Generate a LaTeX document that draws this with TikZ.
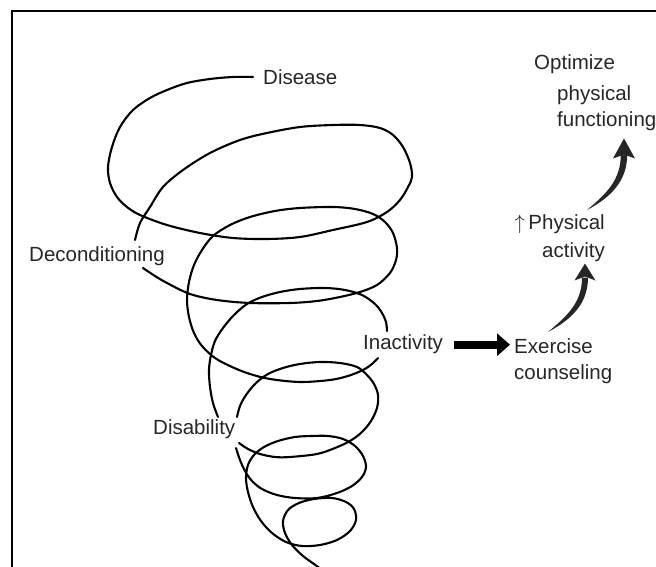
\documentclass[tikz,border=0pt]{standalone}
\usepackage{fontspec}
\setmainfont{Liberation Sans}
\usetikzlibrary{arrows.meta}

\begin{document}
\begin{tikzpicture}[
  x=1pt, y=1pt,
  lbl/.style={inner sep=2pt, text=black!85, font=\fontsize{20.5}{26}\selectfont},
  coil/.style={line width=2.1pt, line join=round, line cap=round},
  blockarr/.style={line width=8pt, -{Triangle[length=13pt,width=22pt]}},
  taper/.style={fill=black!85},
]
  \useasboundingbox (0,0) rectangle (656,567);
  % frame, open to the right and below
  \draw[line width=2.4pt] (12,0) -- (12,556) -- (656,556);

  % labels
  \node[lbl, anchor=base west] (disease) at (261,482) {Disease};
  \node[lbl, anchor=base west] (decond) at (27,305) {Deconditioning};
  \node[lbl, anchor=base west] (disab) at (151,132) {Disability};
  \node[lbl, anchor=base west] (inact) at (361,217) {Inactivity};
  \node[lbl, align=left, anchor=north west] (exer) at (512,231) {Exercise\\counseling};
  \node[lbl, align=right, anchor=north east] (phys) at (607,355) {$\uparrow$\,Physical\\[2pt]activity};
  \node[lbl, align=left, anchor=north west] (opt) at (532,515)
    {Optimize\\[5pt]\hspace*{23pt}physical\\\hspace*{23pt}functioning};

  % the spiral, broken where the labels sit
  \draw[coil] plot[smooth, tension=0.55] coordinates {
    (253,490) (233,490) (210,488) (187,484) (167,477) (150,469) (133,457)
    (120,440) (112,420) (108,400) (110,384) (117,370) (127,360) (140,352)
    (167,342) (200,334) (233,329) (267,328) (300,330) (333,337) (367,345)
    (387,355) (400,367) (408,380) (412,390) (410,404) (403,420) (393,432)
    (380,439) (360,442) (333,442) (300,440) (267,434) (240,427) (210,414)
    (183,397) (163,380) (150,360) (140,344) (135,327)};
  \draw[coil] plot[smooth, tension=0.55] coordinates {
    (143,299) (155,291) (167,284) (190,273) (217,267) (250,264) (290,264)
    (317,266) (340,270) (360,275) (377,282) (390,294) (396,307) (397,319)
    (393,334) (385,345) (373,353) (355,358) (333,360) (300,359) (275,356)
    (250,350) (230,342) (213,331) (202,317) (194,302) (189,285) (187,267)
    (189,250) (194,234) (202,221) (215,209) (232,200) (250,193) (270,188)
    (300,185) (330,187) (348,191) (363,197) (372,203) (378,209)};
  \draw[coil] plot[smooth, tension=0.55] coordinates {
    (387,236) (386,245) (382,254) (375,263) (362,272) (345,277) (325,279)
    (300,278) (280,275) (262,270) (247,263) (234,252) (223,239) (215,226)
    (211,212) (209,197) (210,180) (213,164) (218,150)};
  \draw[coil] plot[smooth, tension=0.55] coordinates {
    (239,124) (248,118) (260,113) (275,110) (290,110) (317,113) (335,119)
    (350,126) (362,135) (371,146) (377,159) (378,172) (374,183) (367,192)
    (357,200) (340,204) (320,205) (300,203) (283,199) (268,193) (256,184)
    (246,172) (240,161) (237,150)};
  \draw[coil] plot[smooth, tension=0.55] coordinates {
    (236,119) (240,107) (245,96) (252,86) (262,78) (277,72) (295,69)
    (317,69) (337,74) (352,81) (362,90) (366,100) (363,111) (355,121)
    (343,128) (328,131) (312,131) (295,130) (278,126) (264,120) (254,112)
    (248,102) (246,89) (248,75) (253,60) (261,46) (272,34) (286,25)
    (302,21) (320,22) (337,27) (350,36) (356,47) (354,58) (346,65)
    (332,69) (314,68) (299,64) (288,57) (283,46) (285,34) (292,22)
    (303,11) (314,3) (322,-3)};

  % arrows on the right
  \draw[blockarr, shorten <=9pt, shorten >=2pt] (inact.east) -- (inact.east -| exer.west);

  \coordinate (t1) at ([xshift=36pt,yshift=4pt]exer.north west);
  \coordinate (h1) at ([xshift=-22pt,yshift=0pt]phys.south east);
  \fill[taper] (t1) to[out=40,in=-90] ([xshift=-3pt,yshift=-14pt]h1)
    -- ([xshift=3pt,yshift=-14pt]h1) to[out=-90,in=28] (t1);
  \fill[taper] (h1) -- ([xshift=-10.5pt,yshift=-17pt]h1) -- ([yshift=-13pt]h1)
    -- ([xshift=10.5pt,yshift=-17pt]h1) -- cycle;

  \coordinate (t2) at ([xshift=-20pt,yshift=2pt]phys.north east);
  \coordinate (h2) at ([xshift=92pt,yshift=-6pt]opt.south west);
  \fill[taper] (t2) to[out=40,in=-90] ([xshift=-3.2pt,yshift=-16pt]h2)
    -- ([xshift=3.2pt,yshift=-16pt]h2) to[out=-90,in=28] (t2);
  \fill[taper] (h2) -- ([xshift=-11pt,yshift=-20pt]h2) -- ([yshift=-16pt]h2)
    -- ([xshift=11pt,yshift=-20pt]h2) -- cycle;
\end{tikzpicture}
\end{document}
